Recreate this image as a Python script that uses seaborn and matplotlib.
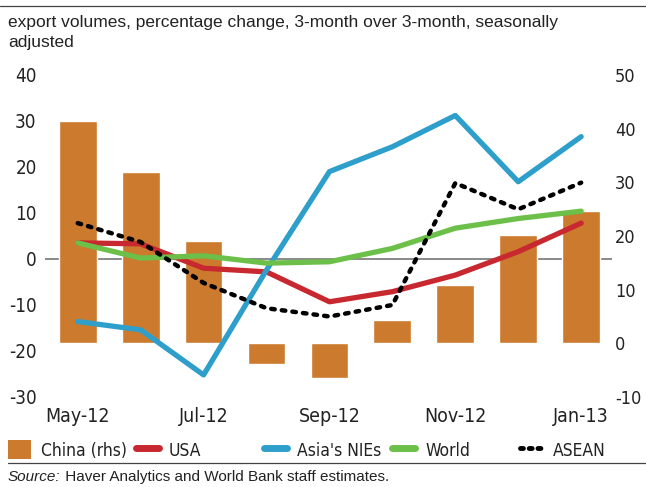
import matplotlib
matplotlib.use('Agg')
import matplotlib.pyplot as plt
import matplotlib.transforms as mtransforms
from matplotlib.lines import Line2D
from matplotlib.patches import Patch
import seaborn as sns
import pandas as pd

# datos
meses = ['May-12', 'Jun-12', 'Jul-12', 'Aug-12', 'Sep-12', 'Oct-12', 'Nov-12', 'Dec-12', 'Jan-13']
china_rhs = [41.5, 32, 19, -3.8, -6.5, 4.3, 10.8, 20.1, 24.6]
usa = [3.5, 3.3, -2.0, -2.8, -9.3, -7.1, -3.5, 1.6, 7.8]
asia_nies = [-13.6, -15.4, -25.2, -2.4, 19.0, 24.4, 31.2, 16.8, 26.6]
world = [3.5, 0.2, 0.7, -0.9, -0.6, 2.3, 6.7, 8.8, 10.4]
asean = [7.8, 3.7, -5.2, -10.7, -12.5, -10.0, 16.5, 10.8, 16.6]
ticks_x = ['May-12', 'Jul-12', 'Sep-12', 'Nov-12', 'Jan-13']

NARANJA = '#CC7A2E'
ROJO = '#C8282F'
AZUL = '#2E9FCB'
VERDE = '#6CC04A'

sns.set_style('white')
plt.rcParams['font.family'] = ['DejaVu Sans']
plt.rcParams['font.stretch'] = 'condensed'
plt.rcParams['axes.unicode_minus'] = False

df = pd.DataFrame({'mes': meses, 'China': china_rhs, 'USA': usa,
                   "Asia's NIEs": asia_nies, 'World': world, 'ASEAN': asean})
df['pos'] = range(len(meses))

fig = plt.figure(figsize=(6.46, 4.87), dpi=100)
ax = fig.add_axes([45 / 646, 1 - 397 / 487, 567 / 646, 322 / 487])
ax2 = ax.twinx()

# barras (eixo direito)
sns.barplot(x='pos', y='China', data=df, ax=ax2, color=NARANJA, width=0.6,
            saturation=1, order=list(range(len(meses))), zorder=2)
ax2.set_ylim(-10, 50)
ax2.set_yticks(range(-10, 51, 10))

# linha do zero do eixo esquerdo, atrás das barras
trans = mtransforms.blended_transform_factory(ax2.transAxes, ax.transData)
ax2.plot([0, 1], [0, 0], transform=trans, color='#808080', lw=1.3, zorder=1)

# linhas (eixo esquerdo)
estilos = [('USA', ROJO), ("Asia's NIEs", AZUL), ('World', VERDE)]
for nome, cor in estilos:
    sns.lineplot(x='pos', y=nome, data=df, ax=ax, color=cor, lw=3.8,
                 solid_capstyle='round', solid_joinstyle='round')
sns.lineplot(x='pos', y='ASEAN', data=df, ax=ax, color='black', lw=3.2,
             linestyle=(0, (0.8, 1.6)), dash_capstyle='round')

ax.set_zorder(ax2.get_zorder() + 1)
ax.patch.set_visible(False)
ax.set_ylim(-30, 40)
ax.set_yticks(range(-30, 41, 10))
ax.set_xlim(-0.52, 8.49)
ax.set_xticks([meses.index(m) for m in ticks_x])
ax.set_xticklabels(ticks_x)
ax.set_xlabel('')
ax.set_ylabel('')
ax2.set_ylabel('')
ax2.set_xlabel('')

for a in (ax, ax2):
    for s in a.spines.values():
        s.set_visible(False)
    a.tick_params(length=0, labelsize=13.5, colors='#222222')
ax.tick_params(axis='y', pad=6)
ax2.tick_params(axis='y', pad=2, labelsize=13)
ax.tick_params(axis='x', pad=7, labelsize=14)

# título e linhas de moldura
fig.add_artist(Line2D([0, 1], [1 - 6 / 487, 1 - 6 / 487], color='#444444', lw=0.9))
fig.text(8 / 646, 1 - 15 / 487, 'export volumes, percentage change, 3-month over 3-month, seasonally\nadjusted',
         ha='left', va='top', fontsize=12.5, color='#222222', linespacing=1.45,
         family=['Liberation Sans', 'DejaVu Sans'], stretch='normal')

# legenda, uma entrada por posição
handles = [
    Patch(facecolor=NARANJA, edgecolor='none'),
    Line2D([], [], color=ROJO, lw=5, solid_capstyle='round'),
    Line2D([], [], color=AZUL, lw=5, solid_capstyle='round'),
    Line2D([], [], color=VERDE, lw=5, solid_capstyle='round'),
    Line2D([], [], color='black', lw=3.5, linestyle=(0, (0.6, 1.2)), dash_capstyle='round'),
]
rotulos = ['China (rhs)', 'USA', "Asia's NIEs", 'World', 'ASEAN']
xs = [8, 136, 264, 392, 520]
for h, r, x in zip(handles, rotulos, xs):
    leg = fig.legend([h], [r], loc='center left', bbox_to_anchor=(x / 646, 1 - 450 / 487),
                     frameon=False, fontsize=12.5, handlelength=1.3, handleheight=1.3,
                     handletextpad=0.6, borderaxespad=0, borderpad=0)
    for t in leg.get_texts():
        t.set_color('#222222')

fig.add_artist(Line2D([8 / 646, 1], [1 - 463 / 487, 1 - 463 / 487], color='#444444', lw=0.9))
t = fig.text(8 / 646, 1 - 477 / 487, 'Source:', ha='left', va='center', fontsize=11,
             style='italic', color='#222222', family=['Liberation Sans', 'DejaVu Sans'], stretch='normal')
ax.annotate(' Haver Analytics and World Bank staff estimates.', xy=(1, 0.5), xycoords=t,
            ha='left', va='center', fontsize=11, color='#222222',
            family=['Liberation Sans', 'DejaVu Sans'], stretch='normal', annotation_clip=False)

fig.savefig('out.png', dpi=100)
